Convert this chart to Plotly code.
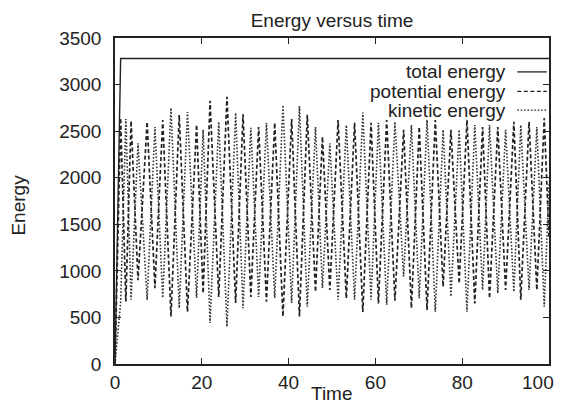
import plotly.graph_objects as go

# ---- data (extrema of the oscillation) ----
time = [0, 1.3, 2.5, 3.7, 5.3, 7.4, 9.2, 11.0, 12.9, 14.8, 16.7, 18.8, 20.3, 21.9,
        23.9, 25.8, 27.8, 29.5, 31.3, 33.1, 34.9, 36.8, 38.7, 40.7, 42.5, 44.3,
        46.2, 47.8, 49.5, 51.4, 53.3, 55.2, 57.1, 59.0, 60.7, 62.6, 64.5, 66.5,
        68.3, 70.1, 71.9, 73.8, 75.6, 77.4, 79.3, 81.1, 82.9, 84.7, 86.3, 88.2,
        90.0, 91.9, 93.5, 95.4, 97.2, 98.9, 100]

potential_energy = [0, 2640, 670, 2610, 900, 2600, 815, 2620, 510, 2675, 560, 2570,
                    760, 2825, 720, 2868, 655, 2680, 720, 2545, 670, 2590, 510, 2630,
                    510, 2675, 775, 2440, 795, 2620, 705, 2590, 560, 2590, 650, 2620,
                    680, 2515, 600, 2545, 580, 2620, 830, 2515, 865, 2620, 650, 2545,
                    705, 2545, 795, 2600, 690, 2600, 795, 2640, 1350]

kinetic_energy = [0, 660, 2630, 690, 2370, 690, 2545, 710, 2750, 600, 2705, 710,
                  2515, 440, 2600, 400, 2696, 600, 2535, 720, 2590, 710, 2780, 655,
                  2770, 615, 2545, 815, 2370, 690, 2565, 690, 2700, 690, 2590, 635,
                  2600, 940, 2565, 705, 2620, 560, 2515, 725, 2515, 560, 2565, 795,
                  2565, 760, 2515, 775, 2565, 795, 2545, 615, 1930]

total_time = [0, 1.3, 100]
total_energy = [0, 3280, 3280]

x_ticks = [0, 20, 40, 60, 80, 100]
x_tick_labels = ["0", "20", "40", "60", "80", "100"]
y_ticks = [0, 500, 1000, 1500, 2000, 2500, 3000, 3500]

title_text = "Energy versus time"
x_label = "Time"
y_label = "Energy"
legend_labels = ["total energy", "potential energy", "kinetic energy"]

# ---- styling ----
FONT = "Liberation Sans, Arial, Helvetica, sans-serif"
INK = "#222222"
FS = 19
dashes = ["solid", "4px,2.5px", "1.6px,1.8px"]

fig = go.Figure()
fig.add_trace(go.Scatter(x=total_time, y=total_energy, mode="lines",
                         line=dict(color=INK, width=1.4, dash=dashes[0]),
                         name=legend_labels[0], showlegend=False))
fig.add_trace(go.Scatter(x=time, y=potential_energy, mode="lines",
                         line=dict(color=INK, width=1.7, dash=dashes[1]),
                         name=legend_labels[1], showlegend=False))
fig.add_trace(go.Scatter(x=time, y=kinetic_energy, mode="lines",
                         line=dict(color="#333333", width=1.6, dash=dashes[2]),
                         name=legend_labels[2], showlegend=False))

axis_common = dict(showgrid=False, zeroline=False, showline=True, mirror="ticks",
                   linecolor=INK, linewidth=1.5, ticks="inside", ticklen=6,
                   tickwidth=1.3, tickcolor=INK, ticklabeloverflow="allow",
                   automargin=False,
                   tickfont=dict(family=FONT, size=FS, color=INK))

# the last x label touches the page edge, so it is drawn as a right-anchored annotation
fig.update_xaxes(range=[0, 100], tickvals=x_ticks,
                 ticktext=x_tick_labels[:-1] + [""], **axis_common)
fig.update_yaxes(range=[0, 3500], tickvals=y_ticks, ticklabelstandoff=8, **axis_common)

# gnuplot-style key: right-aligned text followed by a line sample
key_y = [0.896, 0.836, 0.779]
annotations = []
shapes = []
for lab, yy, dsh in zip(legend_labels, key_y, dashes):
    annotations.append(dict(text=lab, xref="paper", yref="paper", x=0.905, y=yy,
                            xanchor="right", yanchor="middle", showarrow=False,
                            font=dict(family=FONT, size=FS, color=INK)))
    shapes.append(dict(type="line", xref="paper", yref="paper", x0=0.927, x1=0.995,
                       y0=yy, y1=yy, line=dict(color=INK, width=1.3, dash=dsh)))

annotations.append(dict(text=x_tick_labels[-1], xref="paper", yref="paper",
                        x=1.0161, y=-0.057, xanchor="right", yanchor="middle",
                        showarrow=False, font=dict(family=FONT, size=FS, color=INK)))
annotations.append(dict(text=x_label, xref="paper", yref="paper", x=0.5, y=-0.089,
                        xanchor="center", yanchor="middle", showarrow=False,
                        font=dict(family=FONT, size=FS, color=INK)))
annotations.append(dict(text=y_label, xref="paper", yref="paper", x=-0.222, y=0.488,
                        xanchor="center", yanchor="middle", showarrow=False,
                        textangle=-90, font=dict(family=FONT, size=FS, color=INK)))

# the page adds an 8px body margin on every side, so the figure is sized to fit
# inside the 564x412 window without overflowing
fig.update_layout(
    width=548, height=396,
    margin=dict(l=107, r=7, t=30, b=40, autoexpand=False),
    paper_bgcolor="white", plot_bgcolor="white",
    title=dict(text=title_text, x=0.5, xref="paper", y=0.9697, yref="container",
               xanchor="center", yanchor="middle",
               font=dict(family=FONT, size=FS, color=INK)),
    annotations=annotations, shapes=shapes,
    showlegend=False,
)

fig.write_html("out.html")
